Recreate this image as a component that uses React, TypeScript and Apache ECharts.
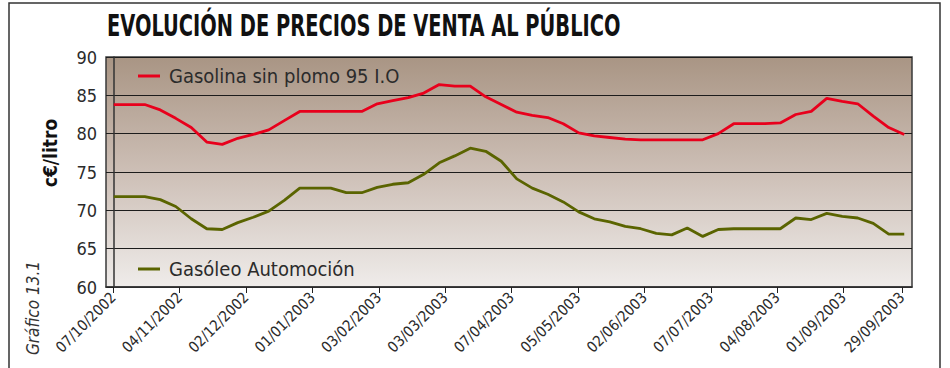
import React, { useEffect, useRef } from "react";
import * as echarts from "echarts";

// Weekly sampling dates (Mondays) for the series below
const weeks = [
  "07/10/2002", "14/10/2002", "21/10/2002", "28/10/2002",
  "04/11/2002", "11/11/2002", "18/11/2002", "25/11/2002",
  "02/12/2002", "09/12/2002", "16/12/2002", "23/12/2002", "30/12/2002",
  "06/01/2003", "13/01/2003", "20/01/2003", "27/01/2003",
  "03/02/2003", "10/02/2003", "17/02/2003", "24/02/2003",
  "03/03/2003", "10/03/2003", "17/03/2003", "24/03/2003", "31/03/2003",
  "07/04/2003", "14/04/2003", "21/04/2003", "28/04/2003",
  "05/05/2003", "12/05/2003", "19/05/2003", "26/05/2003",
  "02/06/2003", "09/06/2003", "16/06/2003", "23/06/2003", "30/06/2003",
  "07/07/2003", "14/07/2003", "21/07/2003", "28/07/2003",
  "04/08/2003", "11/08/2003", "18/08/2003", "25/08/2003",
  "01/09/2003", "08/09/2003", "15/09/2003", "22/09/2003", "29/09/2003",
];

// c€/litro
const gasolina = [
  83.8, 83.8, 83.8, 83.1, 82.0, 80.8, 78.9, 78.6, 79.4, 79.9,
  80.5, 81.7, 82.9, 82.9, 82.9, 82.9, 82.9, 83.9, 84.3, 84.7,
  85.3, 86.4, 86.2, 86.2, 84.8, 83.8, 82.8, 82.4, 82.1, 81.3,
  80.1, 79.7, 79.5, 79.3, 79.2, 79.2, 79.2, 79.2, 79.2, 80.0,
  81.3, 81.3, 81.3, 81.4, 82.5, 82.9, 84.6, 84.2, 83.9, 82.3,
  80.8, 79.9,
];

const gasoleo = [
  71.8, 71.8, 71.8, 71.4, 70.5, 68.9, 67.6, 67.5, 68.4, 69.1,
  69.9, 71.3, 72.9, 72.9, 72.9, 72.3, 72.3, 73.0, 73.4, 73.6,
  74.7, 76.2, 77.1, 78.1, 77.7, 76.4, 74.1, 72.9, 72.1, 71.1,
  69.8, 68.9, 68.5, 67.9, 67.6, 67.0, 66.8, 67.7, 66.6, 67.5,
  67.6, 67.6, 67.6, 67.6, 69.0, 68.8, 69.6, 69.2, 69.0, 68.3,
  66.9, 66.9,
];

// Date labels along the bottom axis
const tickLabels = [
  "07/10/2002", "04/11/2002", "02/12/2002", "01/01/2003", "03/02/2003",
  "03/03/2003", "07/04/2003", "05/05/2003", "02/06/2003", "07/07/2003",
  "04/08/2003", "01/09/2003", "29/09/2003",
];
const tickSlots = [0, 1, 2, 3, 4, 5, 6, 7, 8, 9, 10, 11, 11.88];

const SERIES_GASOLINA = "Gasolina sin plomo 95 I.O";
const SERIES_GASOLEO = "Gasóleo Automoción";

const NARROW = "'DejaVu Sans Condensed', 'DejaVu Sans', sans-serif";
const TEXT = "#2b2b2b";

export default function App() {
  const ref = useRef<HTMLDivElement>(null);

  useEffect(() => {
    if (!ref.current) return;
    const chart = echarts.init(ref.current, undefined, { renderer: "svg" });

    const legendText = { color: TEXT, fontSize: 20, fontFamily: NARROW, padding: [0, 0, 0, 4] };

    chart.setOption({
      animation: false,
      grid: {
        left: 106,
        right: 38,
        top: 57,
        bottom: 81,
        show: true,
        borderColor: "#3a3a3a",
        borderWidth: 1.5,
        backgroundColor: new echarts.graphic.LinearGradient(0, 0, 0, 1, [
          { offset: 0, color: "#a99584" },
          { offset: 0.5, color: "#cdbfb6" },
          { offset: 1, color: "#efecea" },
        ]),
      },
      legend: [
        {
          data: [SERIES_GASOLINA],
          left: 133,
          top: 61,
          icon: "rect",
          itemWidth: 22,
          itemHeight: 3,
          textStyle: legendText,
        },
        {
          data: [SERIES_GASOLEO],
          left: 133,
          top: 254,
          icon: "rect",
          itemWidth: 22,
          itemHeight: 3,
          textStyle: legendText,
        },
      ],
      xAxis: [
        {
          type: "category",
          data: weeks,
          boundaryGap: true,
          show: false,
        },
        {
          type: "value",
          position: "bottom",
          min: -0.11,
          max: 12.03,
          axisLine: { show: true, onZero: false, lineStyle: { color: "#333", width: 1.5 } },
          axisTick: {
            show: true,
            length: 6,
            customValues: tickSlots,
            lineStyle: { color: "#222", width: 1 },
          },
          axisLabel: {
            customValues: tickSlots,
            rotate: 45,
            margin: 8,
            color: TEXT,
            fontSize: 15,
            fontFamily: NARROW,
            formatter: (v: number) => {
              const i = tickSlots.findIndex((s) => Math.abs(s - v) < 1e-6);
              return i >= 0 ? tickLabels[i] : "";
            },
          },
          splitLine: { show: false },
        },
      ],
      yAxis: {
        type: "value",
        min: 60,
        max: 90,
        interval: 5,
        axisLine: { show: true, lineStyle: { color: "#333", width: 1.5 } },
        axisTick: { show: true, length: 6, lineStyle: { color: "#222" } },
        axisLabel: { color: TEXT, fontSize: 18, fontFamily: NARROW, margin: 9 },
        splitLine: { show: true, lineStyle: { color: "#1c1c1c", width: 1.2 } },
      },
      series: [
        {
          name: SERIES_GASOLINA,
          type: "line",
          xAxisIndex: 0,
          data: gasolina,
          symbol: "none",
          lineStyle: { color: "#e8001c", width: 2.8 },
          itemStyle: { color: "#e8001c" },
        },
        {
          name: SERIES_GASOLEO,
          type: "line",
          xAxisIndex: 0,
          data: gasoleo,
          symbol: "none",
          lineStyle: { color: "#5a6400", width: 2.8 },
          itemStyle: { color: "#5a6400" },
        },
      ],
      graphic: [
        {
          type: "rect",
          silent: true,
          shape: { x: 9, y: 3, width: 931, height: 380 },
          style: { fill: "none", stroke: "#333", lineWidth: 1.5 },
        },
        {
          type: "text",
          x: 107,
          y: 11,
          scaleX: 0.72,
          style: {
            text: "EVOLUCIÓN DE PRECIOS DE VENTA AL PÚBLICO",
            font: `bold 30px ${NARROW}`,
            fill: "#111",
          },
        },
        {
          type: "text",
          x: 50,
          y: 153,
          rotation: Math.PI / 2,
          style: {
            text: "c€/litro",
            font: `bold 19px ${NARROW}`,
            fill: "#111",
            align: "center",
            verticalAlign: "middle",
          },
        },
        {
          type: "text",
          x: 33,
          y: 308,
          rotation: Math.PI / 2,
          style: {
            text: "Gráfico 13.1",
            font: `italic 17px ${NARROW}`,
            fill: "#333",
            align: "center",
            verticalAlign: "middle",
          },
        },
      ],
    });

    return () => chart.dispose();
  }, []);

  return (
    <div
      ref={ref}
      style={{ position: "absolute", left: 0, top: 0, width: 950, height: 368 }}
    />
  );
}
